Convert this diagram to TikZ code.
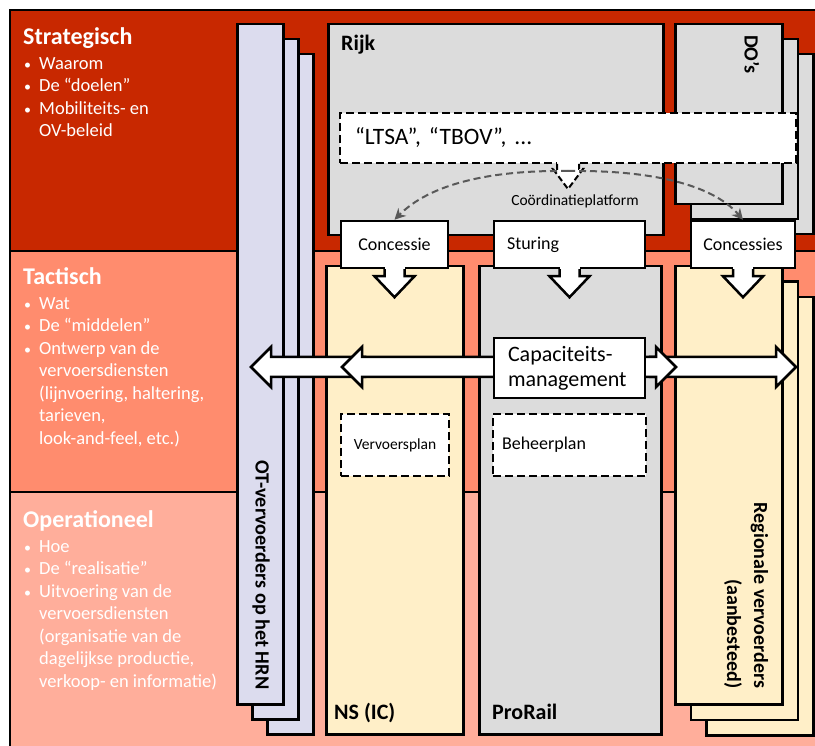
\documentclass[tikz,border=0pt]{standalone}
\usepackage{fontspec}
\setmainfont{Carlito}
\usetikzlibrary{positioning,calc,arrows.meta}
\definecolor{stratred}{HTML}{C82800}
\definecolor{tactred}{HTML}{FF8C6E}
\definecolor{operred}{HTML}{FFAE9B}
\definecolor{otblue}{HTML}{DCDCEE}
\definecolor{rijkgray}{HTML}{DCDCDC}
\definecolor{nsyellow}{HTML}{FFEFC8}
\definecolor{coordgray}{HTML}{595959}

\newcommand{\bul}{\makebox[16pt][l]{\hspace{1pt}{\fontsize{14}{14}\selectfont\textbullet}}}
\newcommand{\ind}{\hspace*{16pt}}
\newcommand{\bandhead}[1]{{\bfseries\fontsize{24}{24}\selectfont #1}}

% white box with an arrow hanging below it
\newcommand{\calloutdown}[1]{%
  \fill[white] ([xshift=-10pt,yshift=2pt]#1.south) rectangle ([xshift=10pt,yshift=-7pt]#1.south);
  \draw[line width=2.5pt, fill=white] ([xshift=-10pt]#1.south) -- ++(0,7) -- ++(-10,0)
    -- ++(20,21) -- ++(20,-21) -- ++(-10,0) -- ++(0,-7);}

% horizontal block arrow from #1 to tip #2
\newcommand{\blockarrow}[2]{%
  \draw[line width=2.5pt, fill=white] let \p1=(#1), \p2=(#2), \n1={sign(\x2-\x1)*20} in
    (\x1,\y1+10pt) -- (\x2-\n1,\y1+10pt) -- (\x2-\n1,\y1+20pt) -- (\x2,\y1)
    -- (\x2-\n1,\y1-20pt) -- (\x2-\n1,\y1-10pt) -- (\x1,\y1-10pt) -- cycle;}

\begin{document}
\begin{tikzpicture}[x=1pt, y=-1pt,
    band/.style={draw, line width=2pt, anchor=north west, minimum width=830pt, inner sep=0pt},
    stackbox/.style={draw, line width=2.5pt, anchor=north west, inner sep=0pt},
    whitebox/.style={draw, line width=2.5pt, fill=white, inner sep=0pt,
                     font=\fontsize{18}{22}\selectfont},
    planbox/.style={draw, line width=2pt, dash pattern=on 8pt off 4pt, fill=white, inner sep=0pt},
    bandtext/.style={anchor=base west, align=left, text=white, inner sep=0pt,
                     font=\fontsize{18.5}{22.5}\selectfont},
    boxlbl/.style={anchor=base west, inner sep=0pt, font=\bfseries\fontsize{22}{26}\selectfont},
    sidelbl/.style={rotate=-90, inner sep=0pt, font=\bfseries\fontsize{20.2}{25}\selectfont},
    coordarrow/.style={draw=coordgray, line width=2pt, dash pattern=on 7pt off 4pt,
                       -{Stealth[length=11pt,width=11pt]}}
  ]
    \useasboundingbox (0,0) rectangle (815,746);

    % the three levels
    \node[band, fill=stratred, minimum height=241pt] (strat) at (9,9) {};
    \node[band, fill=tactred, minimum height=241pt] (tact) at (9,250) {};
    \node[band, fill=operred, minimum height=280pt] (oper) at (9,491) {};

    % (base = last line)
    \node[bandtext] (strattxt) at (23,137) {\bandhead{Strategisch}\\[2.5pt]
      \bul Waarom\\ \bul De “doelen”\\ \bul Mobiliteits- en\\ \ind OV-beleid};
    \node[bandtext] (tacttxt) at (23,444) {\bandhead{Tactisch}\\[2.5pt]
      \bul Wat\\ \bul De “middelen”\\ \bul Ontwerp van de\\ \ind vervoersdiensten\\
      \ind (lijnvoering, haltering,\\ \ind tarieven,\\ \ind look-and-feel, etc.)};
    \node[bandtext] (opertxt) at (23,687) {\bandhead{Operationeel}\\[2.5pt]
      \bul Hoe\\ \bul De “realisatie”\\ \bul Uitvoering van de\\ \ind vervoersdiensten\\
      \ind (organisatie van de\\ \ind dagelijkse productie,\\ \ind verkoop- en informatie)};

    % actors
    \foreach \i in {2,1,0}
      \node[stackbox, fill=otblue, minimum width=46pt, minimum height=680pt] (ot\i) at (236+15*\i, 23+15*\i) {};
    \node[stackbox, fill=rijkgray, minimum width=335pt, minimum height=211pt] (rijk) at (327,23) {};
    \foreach \i in {2,1,0}
      \node[stackbox, fill=rijkgray, minimum width=107pt, minimum height=180pt] (do\i) at (674+15.5*\i, 23+15*\i) {};
    \node[stackbox, fill=nsyellow, minimum width=137pt, minimum height=468pt] (ns) at (325,265) {};
    \node[stackbox, fill=rijkgray, minimum width=182pt, minimum height=468pt] (prorail) at (478,265) {};
    \foreach \i in {2,1,0}
      \node[stackbox, fill=nsyellow, minimum width=107pt, minimum height=438pt] (reg\i) at (674+15.5*\i, 265+15.5*\i) {};

    \node[boxlbl] (rijklbl) at (341,50.5) {Rijk};
    \node[boxlbl] (nslbl) at (334,719) {NS (IC)};
    \node[boxlbl] (prorlbl) at (492,719) {ProRail};
    \node[sidelbl] (dolbl) at (752,54.5) {DO’s};
    \node[sidelbl] (otlbl) at (261,575) {OT-vervoerders op het HRN};
    \node[sidelbl, align=right, font=\bfseries\fontsize{20}{27}\selectfont] (reglbl) at (746,595.5)
      {Regionale vervoerders\\(aanbesteed)};

    % coordination
    \node[planbox, minimum width=456pt, minimum height=50pt, text width=426pt,
          font=\fontsize{23.5}{28}\selectfont] (ltsa) at (568,138) {“LTSA”, “TBOV”, ...};
    \fill[white] ([xshift=-11pt,yshift=2pt]ltsa.south) rectangle ([xshift=11pt,yshift=-5pt]ltsa.south);
    \draw[line width=2pt, dash pattern=on 6pt off 3pt, fill=white] ([xshift=-11pt]ltsa.south)
      -- ++(0,5) -- ++(-4,0) -- ++(15,20) -- ++(15,-20) -- ++(-4,0) -- ++(0,-5);
    \node[font=\fontsize{15.5}{18}\selectfont, inner sep=0pt] (cplbl) at (575,201) {Coördinatieplatform};

    \node[whitebox, minimum width=107pt, minimum height=47pt] (conc) at (394.5,244.5) {Concessie};
    \node[whitebox, minimum width=151pt, minimum height=47pt, text width=125pt] (sturing) at (569.5,244.5) {Sturing};
    \node[whitebox, minimum width=104pt, minimum height=47pt] (concs) at (743,244.5) {Concessies};
    \calloutdown{conc}
    \calloutdown{sturing}
    \calloutdown{concs}

    \coordinate (cp) at (568,171);
    \draw[coordarrow] (cp) .. controls (490,170) and (430,184) .. (conc.north);
    \draw[coordarrow] (cp) .. controls (650,170) and (712,184) .. (concs.north);

    % capacity management
    \coordinate (capL) at (505,367);
    \coordinate (capR) at (635,367);
    \coordinate (tipA) at (342,367);
    \coordinate (startB) at (365,367);
    \coordinate (tipB) at (251,367);
    \coordinate (tipC) at (676,367);
    \coordinate (startD) at (650,367);
    \coordinate (tipD) at (796,367);
    \blockarrow{startB}{tipB}
    \blockarrow{startD}{tipD}
    \blockarrow{capL}{tipA}
    \blockarrow{capR}{tipC}
    \node[whitebox, minimum width=151pt, minimum height=60pt, text width=123pt, align=left,
          font=\fontsize{22}{25}\selectfont] (cap) at (569.5,368) {Capaciteits-\\management};

    \node[planbox, minimum width=108pt, minimum height=62pt,
          font=\fontsize{15.5}{18}\selectfont] (vplan) at (395,445) {Vervoersplan};
    \node[planbox, minimum width=153pt, minimum height=62pt, text width=135pt,
          font=\fontsize{18}{21}\selectfont] (bplan) at (569.5,445) {Beheerplan};
  \end{tikzpicture}
\end{document}
